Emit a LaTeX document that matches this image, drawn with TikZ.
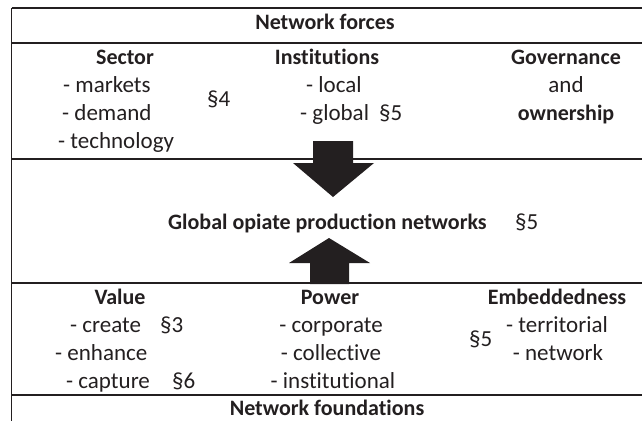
\documentclass[tikz,border=0pt]{standalone}
\usepackage{fontspec}
\setmainfont[Ligatures=NoCommon]{Carlito}
\definecolor{ink}{HTML}{231F20}
\begin{document}
\begin{tikzpicture}[x=1pt,y=-1pt,
  txt/.style={anchor=base,inner sep=0pt,text=ink,font=\fontsize{23}{27}\selectfont},
  bold/.style={txt,font=\fontsize{22}{26}\selectfont\bfseries},
  rule/.style={draw=ink,line width=1.3pt},
  blockarrow/.style={fill=ink,draw=none}]
\useasboundingbox (0,0) rectangle (642,421);
% frame lines
\coordinate (tl) at (11.5,8);
\coordinate (bl) at (11.5,421);
\draw[rule] (tl) -- (bl);
\foreach \yy/\nm in {8/a,43/b,159/c,283/d,395/e}{
  \coordinate (l\nm) at (11.5,\yy);
  \coordinate (r\nm) at (642,\yy);
  \draw[rule] (l\nm) -- (r\nm);
}
% top section
\node[bold] (forces) at (325,29) {Network forces};
\node[bold] (sector) at (125,64) {Sector};
\node[txt,anchor=base west] (markets) at (63,92) {- markets};
\node[txt,anchor=base west] (demand) at (62,120) {- demand};
\node[txt,anchor=base west] (techn) at (58,148) {- technology};
\node[txt,anchor=base west] (s4) at (207,106) {§4};
\node[bold] (inst) at (327,64) {Institutions};
\node[txt,anchor=base west] (local) at (306,92) {- local};
\node[txt,anchor=base west] (global) at (300,120) {- global};
\node[txt,anchor=base west] (s5a) at (379,120) {§5};
\node[bold] (gov) at (566,64) {Governance};
\node[txt] (and) at (566,92) {and};
\node[bold] (own) at (566,120) {ownership};
% middle
\node[bold,anchor=base west] (gopn) at (168,229) {Global opiate production networks};
\node[txt,anchor=base west] (s5b) at (515,229) {§5};
\draw[blockarrow] (313,141) -- (353,141) -- (353,163) -- (374,163) -- (333,197) -- (293,163) -- (313,163) -- cycle;
\draw[blockarrow] (310,284) -- (349,284) -- (349,263) -- (370,263) -- (329,238) -- (289,263) -- (310,263) -- cycle;
% bottom section
\node[bold] (value) at (120,304) {Value};
\node[txt,anchor=base west] (create) at (70,332) {- create};
\node[txt,anchor=base west] (s3) at (160,332) {§3};
\node[txt,anchor=base west] (enhance) at (55,360) {- enhance};
\node[txt,anchor=base west] (capture) at (66,388) {- capture};
\node[txt,anchor=base west] (s6) at (172,388) {§6};
\node[bold] (power) at (330,304) {Power};
\node[txt] (corp) at (331,332) {- corporate};
\node[txt] (coll) at (331,360) {- collective};
\node[txt] (instl) at (333,388) {- institutional};
\node[bold] (embed) at (557,304) {Embeddedness};
\node[txt,anchor=base west] (s5c) at (469,346) {§5};
\node[txt] (terr) at (557,332) {- territorial};
\node[txt] (netw) at (558,360) {- network};
\node[bold] (found) at (327,415) {Network foundations};
\end{tikzpicture}
\end{document}
